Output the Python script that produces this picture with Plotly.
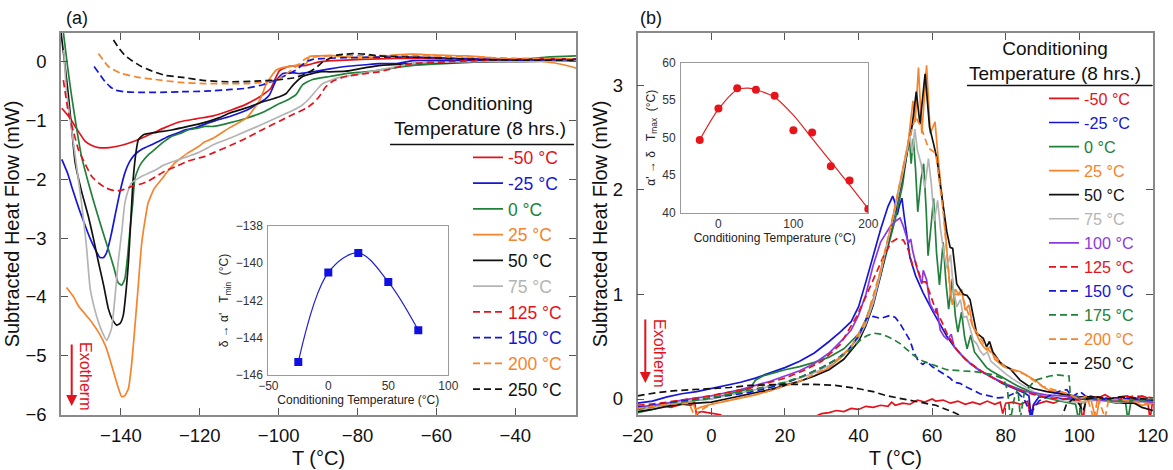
import plotly.graph_objects as go

FONT = "Arial, 'Liberation Sans', sans-serif"
RED = '#e3121b'; BLUE = '#1616d4'; GREEN = '#21803a'; ORANGE = '#f5842c'
BLACK = '#111111'; GRAY = '#b4b4b4'; PURPLE = '#8c3ae0'

# ---------------- Panel (a) data: (T, heat flow) ----------------
A_M50 = [(-155,-0.79),(-153,-0.95),(-151.6,-1.10),(-149.1,-1.35),(-147.5,-1.42),(-145.7,-1.46),(-143,-1.46),(-139.8,-1.42),(-137,-1.36),(-134.8,-1.30),(-131.5,-1.20),(-128.9,-1.12),(-125,-1.02),(-121,-0.97),(-116.6,-0.92),(-112,-0.82),(-108.2,-0.72),(-104,-0.56),(-102,-0.45),(-101,-0.31),(-99.8,-0.15),(-98,-0.09),(-96.4,-0.07),(-93,-0.06),(-89.7,0.0),(-86,0.02),(-83,0.03),(-75,0.05),(-66,0.06),(-55,0.05),(-45,0.04),(-35,0.05),(-24.6,0.05)]
A_M25 = [(-155,-1.66),(-153.5,-1.9),(-152.5,-2.12),(-150,-2.62),(-147.4,-3.07),(-145.3,-3.33),(-144.4,-3.33),(-143.6,-3.24),(-142.5,-2.95),(-141.5,-2.62),(-140.2,-2.2),(-139,-1.89),(-137.8,-1.70),(-136.5,-1.58),(-134.5,-1.48),(-132.2,-1.41),(-130,-1.34),(-128,-1.27),(-125.5,-1.21),(-123.8,-1.16),(-121,-1.12),(-118.7,-1.06),(-116,-1.0),(-112.4,-0.93),(-108,-0.82),(-105.7,-0.73),(-103.5,-0.64),(-102.3,-0.56),(-100.6,-0.31),(-98.9,-0.20),(-96,-0.19),(-94.7,-0.20),(-91.4,-0.17),(-87,-0.12),(-83,-0.08),(-78,-0.05),(-74.5,-0.03),(-70,-0.03),(-66,0.02),(-60,0.02),(-49.3,0.03),(-40,0.02),(-30,0.01),(-24.6,0.02)]
A_0 = [(-154.6,0.5),(-153.5,-0.1),(-152.5,-0.59),(-151.2,-1.15),(-150,-1.61),(-148.3,-2.05),(-146.6,-2.45),(-144.8,-2.85),(-143.2,-3.19),(-141.8,-3.5),(-140.7,-3.76),(-139.8,-3.8),(-139,-3.69),(-138.3,-3.3),(-137.7,-2.85),(-137,-2.4),(-136.5,-2.0),(-135.6,-1.82),(-134.8,-1.72),(-133,-1.58),(-131.4,-1.49),(-129.5,-1.38),(-127.2,-1.27),(-125,-1.22),(-123,-1.16),(-120.5,-1.13),(-118.7,-1.10),(-116.6,-1.10),(-112,-1.03),(-108.2,-0.96),(-104,-0.86),(-99.8,-0.71),(-97.5,-0.64),(-95.6,-0.56),(-93.9,-0.39),(-91.4,-0.30),(-87,-0.25),(-83,-0.20),(-78,-0.17),(-74.5,-0.14),(-66,-0.06),(-58,-0.03),(-49.3,0.0),(-40,0.03),(-32,0.08),(-24.6,0.1)]
A_25 = [(-153.8,-3.84),(-152,-4.0),(-150.8,-4.15),(-149,-4.3),(-147.4,-4.43),(-145.7,-4.6),(-144,-4.82),(-143,-5.02),(-141.9,-5.27),(-140.8,-5.52),(-139.8,-5.70),(-139,-5.68),(-138.1,-5.56),(-137.3,-5.15),(-136.5,-4.54),(-135.6,-3.8),(-134.8,-3.13),(-133.9,-2.7),(-133.1,-2.40),(-131.5,-2.15),(-129.7,-2.0),(-128,-1.85),(-126.3,-1.72),(-125,-1.65),(-123,-1.55),(-120.5,-1.45),(-118.7,-1.36),(-116.6,-1.30),(-112.4,-1.12),(-108.2,-0.96),(-106.5,-0.82),(-104.8,-0.65),(-103.2,-0.39),(-101.9,-0.25),(-100.6,-0.14),(-99,-0.1),(-97.3,-0.08),(-95,-0.05),(-93,-0.03),(-92.2,0.09),(-90,0.1),(-87,0.11),(-83,0.08),(-78.7,0.06),(-74,0.09),(-70,0.12),(-66,0.13),(-62,0.12),(-57.7,0.11),(-52,0.1),(-45,0.06),(-40,0.04),(-35,0.02),(-30,-0.02),(-26,-0.08),(-24.6,-0.11)]
A_50 = [(-155.2,0.5),(-154.3,0.0),(-153.3,-0.59),(-152.4,-1.2),(-151.6,-1.72),(-150,-2.2),(-148.3,-2.62),(-147,-3.0),(-145.7,-3.41),(-144.4,-3.8),(-143.2,-4.20),(-142.2,-4.38),(-141.1,-4.48),(-140.2,-4.45),(-139.4,-4.31),(-138.7,-3.9),(-138.1,-3.41),(-137.5,-2.7),(-136.9,-2.0),(-136.2,-1.55),(-135.6,-1.33),(-134.3,-1.24),(-131,-1.20),(-127.2,-1.16),(-123,-1.10),(-118.7,-1.03),(-115,-0.95),(-112.4,-0.87),(-108,-0.78),(-104,-0.68),(-100,-0.60),(-98.1,-0.54),(-97,-0.45),(-96,-0.37),(-93.9,-0.25),(-91.4,-0.20),(-89.7,-0.17),(-87,-0.17),(-83,-0.16),(-78,-0.1),(-74,-0.06),(-66,-0.03),(-55,-0.01),(-45,0.0),(-40,0.0),(-32,0.01),(-24.6,0.02)]
A_75 = [(-154.5,0.2),(-153.8,-0.5),(-152.5,-1.16),(-151.2,-1.8),(-150,-2.40),(-148.8,-3.1),(-147.8,-3.86),(-146.7,-4.2),(-145.7,-4.43),(-144.6,-4.62),(-143.6,-4.74),(-142.4,-4.54),(-141.5,-4.0),(-140.7,-3.41),(-139.8,-2.9),(-139,-2.40),(-138.2,-2.2),(-137.3,-2.06),(-136,-2.0),(-134.8,-1.95),(-131.5,-1.85),(-128.9,-1.75),(-126,-1.68),(-123,-1.61),(-120.5,-1.55),(-118.7,-1.49),(-116.6,-1.41),(-112.4,-1.30),(-108.2,-1.18),(-104,-1.06),(-99.8,-0.93),(-96.5,-0.83),(-93.9,-0.73),(-92.6,-0.65),(-91.4,-0.56),(-90,-0.45),(-88.8,-0.37),(-87,-0.32),(-85.5,-0.28),(-80,-0.21),(-74.5,-0.14),(-66,-0.03),(-55,0.0),(-40,0.0),(-24.6,0.02)]
A_125 = [(-154.6,-0.31),(-153.3,-0.87),(-152,-1.2),(-150.8,-1.49),(-149,-1.75),(-147.4,-1.95),(-145.7,-2.06),(-144,-2.14),(-142.5,-2.18),(-141.1,-2.20),(-139.2,-2.17),(-137.3,-2.12),(-135,-2.08),(-133.1,-2.03),(-131,-1.95),(-128.9,-1.86),(-126,-1.78),(-123,-1.69),(-120.5,-1.64),(-118.7,-1.61),(-116.6,-1.55),(-112.4,-1.43),(-108.2,-1.30),(-104,-1.15),(-99.8,-1.01),(-96.5,-0.90),(-93,-0.79),(-91.2,-0.70),(-89.7,-0.59),(-88,-0.42),(-86,-0.32),(-83,-0.25),(-78,-0.2),(-74.5,-0.17),(-66,-0.03),(-57.7,0.0),(-50,0.02),(-40,0.04),(-24.6,0.05)]
A_150 = [(-146.8,-0.08),(-145.5,-0.2),(-144,-0.34),(-142.8,-0.42),(-141.5,-0.48),(-139,-0.51),(-135.6,-0.52),(-130,-0.52),(-125,-0.51),(-118.7,-0.50),(-112,-0.47),(-108.2,-0.45),(-104,-0.39),(-101.9,-0.34),(-99.8,-0.28),(-97.7,-0.21),(-95.6,-0.14),(-94.3,-0.07),(-93,0.0),(-91.4,0.04),(-87,0.06),(-83,0.07),(-75,0.08),(-66,0.08),(-55,0.06),(-40,0.03),(-24.6,0.04)]
A_200 = [(-145.7,0.14),(-144.5,0.03),(-143.2,-0.08),(-141.5,-0.15),(-139.8,-0.20),(-136,-0.26),(-131.4,-0.30),(-125,-0.35),(-118.7,-0.37),(-112,-0.37),(-108.2,-0.37),(-104,-0.35),(-100.6,-0.31),(-98,-0.2),(-95.6,-0.08),(-93,0.06),(-90,0.09),(-87,0.10),(-80,0.1),(-66,0.11),(-55,0.09),(-40,0.06),(-24.6,0.05)]
A_250 = [(-141.9,0.37),(-140.5,0.23),(-139,0.11),(-137,0.01),(-134.8,-0.08),(-132,-0.16),(-128.9,-0.23),(-125,-0.26),(-118.7,-0.32),(-112.4,-0.34),(-106,-0.33),(-100.6,-0.31),(-96,-0.27),(-93,-0.20),(-90.5,-0.1),(-88.8,0.0),(-87,0.06),(-85.5,0.11),(-83,0.13),(-81.3,0.14),(-78,0.13),(-74.5,0.10),(-66,0.08),(-57.7,0.06),(-50,0.04),(-40,0.03),(-24.6,0.03)]

A_LABELS = ['-50 °C', '-25 °C', '0 °C', '25 °C', '50 °C', '75 °C', '125 °C', '150 °C', '200 °C', '250 °C']
A_SERIES = [A_M50, A_M25, A_0, A_25, A_50, A_75, A_125, A_150, A_200, A_250]
A_COLORS = [RED, BLUE, GREEN, ORANGE, BLACK, GRAY, RED, BLUE, ORANGE, BLACK]
A_DASHES = ['solid'] * 6 + ['dash'] * 4

# ---------------- Panel (b) data ----------------
B_M50 = [(-20,-0.07),(-17,-0.09),(-14,-0.06),(-11,-0.08),(-8,-0.05),(-5.5,-0.06),(-4.5,-0.03),(-4,-0.16),(-3.5,-0.13),(-2.5,-0.12),(-1,-0.13),(1,-0.14),(2.5,-0.15),(3.5,-0.3),(26.5,-0.3),(28,-0.17),(30,-0.14),(32,-0.13),(34,-0.11),(36,-0.12),(38,-0.09),(40,-0.1),(42,-0.07),(44,-0.08),(46,-0.06),(48,-0.07),(49,-0.03),(50,-0.06),(52,-0.04),(54,-0.05),(56,-0.01),(58,-0.03),(60,0.0),(61,-0.02),(63,-0.01),(65,-0.04),(67,-0.02),(69,-0.05),(71,-0.03),(73,-0.05),(75,-0.02),(77,-0.05),(78.5,-0.03),(79.2,-0.14),(80,-0.04),(82,-0.03),(84,-0.05),(86,-0.02),(86.8,-0.2),(87.5,-0.06),(89,-0.04),(91,-0.02),(93,-0.04),(95,-0.01),(97,0.01),(98.5,0.03),(100,-0.01),(101,-0.2),(101.8,0.0),(103,0.03),(105,0.01),(107,0.04),(109,0.0),(111,0.02),(113,0.03),(115,0.0),(117,0.03),(118.5,0.01),(119.2,-0.2),(120,0.0)]
B_M25 = [(-20,-0.04),(-16,-0.02),(-12,0.02),(-8,0.05),(-4,0.07),(0,0.10),(4,0.13),(8,0.16),(12,0.2),(16,0.25),(20,0.30),(24,0.36),(28,0.44),(32,0.55),(35,0.64),(38,0.74),(40,0.88),(42,1.12),(44,1.38),(46,1.62),(48,1.84),(49.3,1.94),(49.9,1.88),(50.5,1.76),(51.2,1.86),(51.8,1.92),(52.4,1.75),(53,1.58),(54,1.35),(55.5,1.18),(57.5,1.02),(60,0.85),(62,0.72),(64,0.6),(66,0.5),(68,0.42),(70.3,0.34),(73,0.27),(76.7,0.2),(79,0.15),(81,0.12),(83,0.09),(85,0.06),(86.3,0.03),(87,-0.2),(87.6,-0.05),(89,0.02),(92,0.02),(96,0.0),(100,0.0),(105,-0.01),(110,-0.02),(115,-0.01),(120,-0.02)]
B_0 = [(-20,-0.13),(-16,-0.1),(-12,-0.06),(-8,-0.04),(-4,-0.01),(0,0.0),(4,0.04),(8,0.08),(10.5,0.1),(12,0.18),(14,0.22),(17,0.25),(20,0.28),(24,0.31),(28,0.35),(32,0.4),(36,0.48),(40,0.62),(42,0.76),(44,0.95),(46,1.18),(48,1.45),(50,1.72),(52,2.05),(53,2.3),(53.8,2.52),(54.3,2.25),(54.9,2.49),(55.5,2.2),(56.1,1.79),(57,2.1),(57.7,2.25),(58.4,1.8),(58.9,1.37),(59.7,1.65),(60.4,1.92),(61.2,1.4),(62,1.09),(63,1.5),(63.8,1.1),(64.5,0.86),(65.5,1.15),(66.3,0.8),(67,0.64),(68,0.83),(68.8,0.6),(69.5,0.48),(70.5,0.61),(71.5,0.45),(73,0.38),(74.8,0.3),(76,0.27),(78,0.23),(80,0.19),(83,0.13),(86,0.08),(90,0.02),(95,-0.02),(99,-0.05),(99.8,-0.2),(100.6,-0.03),(105,0.0),(110,-0.04),(112.5,-0.02),(113.2,-0.2),(114,-0.03),(117,-0.01),(120,-0.02)]
B_25 = [(-20,-0.1),(-16,-0.08),(-12,-0.06),(-8,-0.05),(-5,-0.04),(-4.3,-0.1),(-3,-0.08),(0,-0.05),(4,-0.02),(8,0.01),(12,0.04),(16,0.08),(20,0.13),(24,0.17),(28,0.22),(32,0.3),(36,0.42),(38,0.5),(40,0.6),(42,0.75),(44,0.95),(46,1.23),(48,1.52),(50,1.85),(52,2.18),(53.5,2.45),(54.8,2.85),(55.4,2.65),(56.3,3.17),(57.2,2.54),(58.5,3.19),(59.5,2.54),(60.8,2.65),(61.7,2.28),(63.1,1.8),(64,1.42),(64.9,1.05),(65.5,0.9),(66.3,1.05),(67.2,1.0),(68,1.05),(69,0.85),(70,0.9),(71,0.7),(72,0.62),(73,0.55),(74,0.5),(74.8,0.47),(75.8,0.5),(77,0.38),(79.4,0.31),(82,0.28),(84,0.26),(86,0.22),(88.4,0.17),(90,0.12),(92,0.08),(96,0.06),(99,0.02),(101,-0.04),(103,0.02),(104.5,-0.2),(105.5,0.0),(108,-0.02),(110,0.0),(114,-0.03),(117,-0.06),(120,-0.04)]
B_50 = [(-20,-0.12),(-16,-0.1),(-12,-0.07),(-8,-0.05),(-4,-0.04),(0,-0.03),(4,0.0),(8,0.03),(12,0.06),(16,0.09),(20,0.13),(24,0.17),(28,0.22),(32,0.28),(36,0.38),(40,0.55),(42,0.7),(44,0.9),(46,1.18),(48,1.48),(50,1.8),(52,2.12),(53.6,2.41),(54.6,2.62),(55.7,2.94),(56.7,2.63),(58.1,3.11),(59.3,2.6),(60.4,2.44),(61.3,2.3),(62.2,2.05),(63.1,1.8),(64,1.6),(64.9,1.45),(65.6,1.44),(66.7,1.1),(67.6,1.05),(68.5,1.0),(69.5,0.99),(70.3,0.95),(71.2,0.79),(72.1,0.63),(73.9,0.58),(74.8,0.5),(75.6,0.55),(76.5,0.45),(78.5,0.35),(80,0.31),(81.2,0.29),(82.5,0.24),(83.9,0.18),(86,0.13),(87.5,0.1),(91.2,0.07),(96.6,0.04),(100,0.02),(104,0.02),(108,-0.02),(112,-0.04),(115,-0.04),(117,-0.08),(120,-0.11)]
B_75 = [(-20,-0.1),(-16,-0.08),(-12,-0.05),(-8,-0.03),(-4,-0.01),(0,0.0),(4,0.03),(8,0.06),(12,0.09),(16,0.12),(20,0.16),(24,0.2),(28,0.25),(32,0.32),(36,0.43),(40,0.58),(42,0.72),(44,0.92),(46,1.2),(48,1.5),(50,1.82),(52,2.15),(53,2.32),(54,2.52),(54.6,2.35),(55.3,2.58),(56,2.38),(57,2.25),(58,2.02),(59,2.3),(59.8,2.05),(60.6,1.7),(61.5,1.9),(62.3,1.62),(63.2,1.4),(64,1.25),(65,1.38),(65.8,1.05),(66.7,0.88),(67.7,0.95),(68.5,0.78),(69.4,0.79),(70.3,0.68),(71.2,0.56),(72.1,0.53),(73,0.46),(74,0.42),(75,0.45),(76,0.36),(78.5,0.28),(80,0.24),(82,0.19),(83.9,0.15),(86,0.1),(87.5,0.07),(90,0.03),(93,0.01),(96,-0.02),(100,-0.03),(105,-0.01),(110,-0.03),(115,-0.02),(120,-0.03)]
B_100 = [(-20,-0.08),(-16,-0.06),(-12,-0.04),(-8,-0.01),(-4,0.01),(0,0.03),(4,0.06),(8,0.09),(12,0.13),(16,0.17),(20,0.22),(24,0.27),(28,0.34),(32,0.44),(36,0.58),(38,0.66),(40,0.8),(42,1.0),(44,1.28),(46,1.5),(48.6,1.65),(50.4,1.71),(51.3,1.73),(52.2,1.65),(53.6,1.49),(54.2,1.53),(54.7,1.42),(55.8,1.26),(57.2,1.1),(57.6,1.23),(58.5,1.14),(59.4,0.91),(60.8,0.82),(61.3,0.87),(62.2,0.66),(63.2,0.6),(64.2,0.57),(65.2,0.62),(66,0.5),(68,0.42),(70.3,0.34),(73,0.27),(76.7,0.2),(81,0.13),(85.7,0.07),(91,0.04),(99,0.02),(105,-0.01),(110,-0.02),(115,-0.02),(120,-0.03)]
B_125 = [(-20,-0.06),(-14,-0.04),(-8,-0.01),(-2,0.02),(4,0.06),(10,0.1),(16,0.16),(20,0.2),(25,0.27),(30,0.36),(35,0.52),(39.5,0.79),(42,0.98),(45,1.22),(47,1.38),(49,1.5),(50.4,1.53),(52.2,1.52),(53.6,1.42),(54.7,1.28),(55.4,1.32),(57.2,1.12),(58.3,1.12),(59.4,1.01),(61.3,0.82),(62.5,0.75),(64,0.63),(66.7,0.47),(69,0.38),(72.1,0.3),(75,0.23),(77.6,0.18),(80,0.14),(84,0.08),(88,0.04),(92,0.01),(96,0.0),(100,-0.01),(105,0.02),(110,-0.01),(115,0.03),(120,0.01)]
B_150 = [(-20,-0.08),(-14,-0.05),(-8,-0.02),(-2,0.0),(4,0.03),(10,0.06),(16,0.11),(20,0.15),(25,0.22),(30,0.3),(34,0.38),(37,0.46),(40,0.6),(42.2,0.77),(44,0.79),(46,0.77),(48.6,0.80),(50,0.78),(51.3,0.72),(53,0.62),(54,0.56),(55,0.45),(56.3,0.36),(57.5,0.33),(58.5,0.36),(60,0.31),(61.3,0.28),(63,0.24),(64.9,0.2),(66,0.16),(67.6,0.15),(69,0.12),(70.3,0.1),(72,0.07),(73,0.05),(75,0.03),(76.7,0.02),(78,0.01),(80.3,0.02),(82,0.05),(83,0.07),(85,0.0),(86.5,-0.12),(87.5,-0.1),(89,-0.02),(91.2,0.02),(93,0.05),(95,0.08),(96.6,0.09),(98,0.02),(100.2,0.07),(102,0.02),(105,0.0),(110,0.01),(115,0.0),(120,-0.01)]
B_175 = [(-20,-0.1),(-14,-0.06),(-8,-0.03),(-2,0.0),(4,0.04),(10,0.08),(16,0.13),(20,0.16),(25,0.22),(30,0.3),(35,0.4),(38,0.48),(40.4,0.56),(42,0.6),(44,0.63),(46,0.62),(47.7,0.6),(49.5,0.57),(51.3,0.53),(53,0.48),(54.9,0.42),(57.6,0.36),(61.3,0.31),(64,0.28),(67.6,0.27),(72.1,0.26),(76.7,0.23),(79.5,0.19),(80.5,0.08),(81.3,-0.2),(82.3,0.0),(83.3,0.1),(84,-0.18),(85,0.05),(86.5,0.12),(88,0.18),(90,0.2),(92,0.22),(94,0.23),(96,0.22),(97.2,0.22),(97.5,0.06),(99,0.02),(102,0.0),(105,0.0),(110,-0.02),(115,-0.01),(120,0.0)]
B_200 = [(-20,-0.09),(-12,-0.05),(-6,-0.04),(-4.5,-0.17),(-3.5,-0.12),(0,-0.05),(8,0.01),(16,0.08),(24,0.17),(32,0.3),(38,0.5),(42,0.75),(46,1.23),(50,1.85),(53.5,2.45),(55.5,2.7),(57,2.6),(59,2.4),(61,2.35),(63,1.8),(65,1.0),(68,1.0),(71,0.7),(75,0.48),(80,0.3),(85,0.24),(90,0.12),(96,0.06),(100,0.0),(102,0.03),(104,-0.2),(105,0.02),(107,-0.18),(108,0.0),(112,-0.01),(116,-0.03),(120,-0.05)]
B_250 = [(-20,0.03),(-15,0.06),(-9.7,0.08),(-5,0.09),(0.4,0.1),(5,0.11),(10.5,0.13),(15,0.135),(20.6,0.14),(27.6,0.14),(33.7,0.13),(39.8,0.1),(44,0.07),(47.8,0.03),(51,0.01),(54.9,-0.02),(58,-0.04),(61,-0.06),(64,-0.1),(66,-0.13),(69,-0.18),(72,-0.3),(94,-0.3),(95.3,-0.18),(96.5,-0.05),(98.3,0.0),(100,-0.05),(101,-0.12),(102,0.0),(105,0.02),(108,0.0),(111,0.02),(115,0.01),(118,0.0),(120,-0.01)]

B_LABELS = ['-50 °C', '-25 °C', '0 °C', '25 °C', '50 °C', '75 °C', '100 °C', '125 °C', '150 °C', '175 °C', '200 °C', '250 °C']
B_SERIES = [B_M50, B_M25, B_0, B_25, B_50, B_75, B_100, B_125, B_150, B_175, B_200, B_250]
B_COLORS = [RED, BLUE, GREEN, ORANGE, BLACK, GRAY, PURPLE, RED, BLUE, GREEN, ORANGE, BLACK]
B_DASHES = ['solid'] * 7 + ['dash'] * 5

# ---------------- Insets ----------------
INSET_A_X = [-25, 0, 25, 50, 75]
INSET_A_Y = [-145.3, -140.5, -139.45, -141.0, -143.6]
INSET_B_X = [-25, 0, 25, 50, 75, 100, 125, 150, 175, 200]
INSET_B_Y = [49.7, 53.9, 56.6, 56.4, 55.6, 51.0, 50.7, 46.2, 44.3, 40.5]
INSET_B_FIT_X = [-25, 0, 25, 40, 50, 75, 100, 125, 150, 175, 200]
INSET_B_FIT_Y = [49.7, 53.8, 56.4, 56.6, 56.4, 55.4, 53.0, 49.9, 46.8, 43.7, 40.5]

# ---------------- geometry helpers (pixel -> paper) ----------------
FW, FH = 1173, 470
ML, MR, MT, MB = 61, 20, 33, 55
PW, PH = FW - ML - MR, FH - MT - MB
def px(x):
    return (x - ML) / PW
def py(y):
    return (FH - MB - y) / PH

fig = go.Figure()

for lab, ser, col, dsh in zip(A_LABELS, A_SERIES, A_COLORS, A_DASHES):
    xs = [p[0] for p in ser]; ys = [p[1] for p in ser]
    fig.add_trace(go.Scatter(x=xs, y=ys, mode='lines', xaxis='x', yaxis='y',
                             line=dict(color=col, width=1.7, dash='7px,4px' if dsh == 'dash' else 'solid',
                                       shape='spline', smoothing=0.5),
                             name=f'<span style="color:{col}">{lab}</span>', legend='legend'))

for lab, ser, col, dsh in zip(B_LABELS, B_SERIES, B_COLORS, B_DASHES):
    xs = [p[0] for p in ser]; ys = [p[1] for p in ser]
    fig.add_trace(go.Scatter(x=xs, y=ys, mode='lines', xaxis='x2', yaxis='y2',
                             line=dict(color=col, width=1.7, dash='7px,4px' if dsh == 'dash' else 'solid'),
                             name=f'<span style="color:{col}">{lab}</span>', legend='legend2'))

fig.add_trace(go.Scatter(x=INSET_A_X, y=INSET_A_Y, mode='lines+markers', xaxis='x3', yaxis='y3',
                         line=dict(color='#2323c8', width=1.2, shape='spline', smoothing=1.0),
                         marker=dict(symbol='square', size=8, color='#1010e0'), showlegend=False))
fig.add_trace(go.Scatter(x=INSET_B_FIT_X, y=INSET_B_FIT_Y, mode='lines', xaxis='x4', yaxis='y4',
                         line=dict(color='#dd2222', width=1.2, shape='spline', smoothing=0.8), showlegend=False))
fig.add_trace(go.Scatter(x=INSET_B_X, y=INSET_B_Y, mode='markers', xaxis='x4', yaxis='y4',
                         marker=dict(symbol='circle', size=8, color='#e8141b'), showlegend=False))

main_axis = dict(showline=True, linecolor='#8a8a8a', linewidth=1.5, mirror='ticks', ticks='inside',
                 ticklen=7, tickwidth=1.2, tickcolor='#555', showgrid=False, zeroline=False,
                 automargin=False, tickfont=dict(size=18.5, color='#111'))
inset_axis = dict(showline=True, linecolor='#9a9a9a', linewidth=1, mirror=True, ticks='',
                  showgrid=False, zeroline=False, automargin=False, tickfont=dict(size=12, color='#333'))

fig.update_layout(
    width=FW, height=FH, margin=dict(l=ML, r=MR, t=MT, b=MB, autoexpand=False),
    paper_bgcolor='white', plot_bgcolor='white',
    font=dict(family=FONT, color='#111'),
    xaxis=dict(main_axis, domain=[0, px(576)], range=[-155.2, -24.6], dtick=20, anchor='y',
               ticklabelstandoff=3,
               title=dict(text='T (°C)', font=dict(size=20), standoff=6)),
    yaxis=dict(main_axis, domain=[0, 1], range=[-6.01, 0.49], dtick=1, anchor='x',
               ticklabelstandoff=9,
               title=dict(text='Subtracted Heat Flow (mW)', font=dict(size=20), standoff=0)),
    xaxis2=dict(main_axis, domain=[px(637.6), 1], range=[-20.02, 120.02], dtick=20, anchor='y2',
                ticklabelstandoff=3,
                title=dict(text='T (°C)', font=dict(size=20), standoff=6)),
    yaxis2=dict(main_axis, domain=[0, 1], range=[-0.153, 3.5], dtick=1, anchor='x2',
                ticklabelstandoff=9,
                title=dict(text='Subtracted Heat Flow (mW)', font=dict(size=20), standoff=0)),
    xaxis3=dict(inset_axis, domain=[px(268.3), px(448.3)], range=[-50, 100], dtick=50, anchor='y3',
                ticklabelstandoff=0,
                title=dict(text='Conditioning Temperature (°C)', font=dict(size=12, color='#222'), standoff=0)),
    yaxis3=dict(inset_axis, domain=[py(375), py(226)], range=[-146, -138], dtick=2, anchor='x3',
                ticklabelstandoff=2,
                title=dict(text="δ → α'   T<sub>min</sub>  (°C)", font=dict(size=12, color='#222'), standoff=4)),
    xaxis4=dict(inset_axis, domain=[px(681), px(868.3)], range=[-50, 200], tickvals=[0, 100, 200], anchor='y4',
                ticklabelstandoff=0,
                title=dict(text='Conditioning Temperature (°C)', font=dict(size=12, color='#222'), standoff=0)),
    yaxis4=dict(inset_axis, domain=[py(212.7), py(62.7)], range=[40, 60], dtick=5, anchor='x4',
                ticklabelstandoff=2,
                title=dict(text="α' → δ   T<sub>max</sub>  (°C)", font=dict(size=12, color='#222'), standoff=4)),
    legend=dict(x=px(468), y=py(139.5), xanchor='left', yanchor='top', bgcolor='rgba(0,0,0,0)',
                font=dict(size=17.5, family=FONT), tracegroupgap=0, borderwidth=0),
    legend2=dict(x=px(1044), y=py(81.4), xanchor='left', yanchor='top', bgcolor='rgba(0,0,0,0)',
                 font=dict(size=16.2, family=FONT), tracegroupgap=0, borderwidth=0),
    showlegend=True,
)

ann = []
# Legend headings
ann.append(dict(x=px(480), y=py(116), xref='paper', yref='paper', text='Conditioning<br>Temperature (8 hrs.)',
                showarrow=False, font=dict(size=19, color='#111'), align='center', xanchor='center', yanchor='middle'))
ann.append(dict(x=px(1055), y=py(61), xref='paper', yref='paper', text='Conditioning<br>Temperature (8 hrs.)',
                showarrow=False, font=dict(size=19, color='#111'), align='center', xanchor='center', yanchor='middle'))
# panel labels
ann.append(dict(x=px(64), y=py(18), xref='paper', yref='paper', text='(a)', showarrow=False,
                font=dict(size=18, color='#111'), xanchor='left', yanchor='middle'))
ann.append(dict(x=px(638), y=py(18), xref='paper', yref='paper', text='(b)', showarrow=False,
                font=dict(size=18, color='#111'), xanchor='left', yanchor='middle'))
# Exotherm labels and arrows
ann.append(dict(x=px(86), y=py(376), xref='paper', yref='paper', text='Exotherm', textangle=90, showarrow=False,
                font=dict(size=16, color='#e3121b'), xanchor='center', yanchor='middle'))
ann.append(dict(x=px(660), y=py(353), xref='paper', yref='paper', text='Exotherm', textangle=90, showarrow=False,
                font=dict(size=16, color='#e3121b'), xanchor='center', yanchor='middle'))
for (xa, ytop, ybot) in [(71.7, 343, 406), (645.3, 318, 383)]:
    ann.append(dict(x=px(xa), y=py(ybot), xref='paper', yref='paper', ax=0, ay=-(ybot - ytop),
                    axref='pixel', ayref='pixel', text='', showarrow=True, arrowhead=2, arrowsize=1.1,
                    arrowwidth=2, arrowcolor='#e3121b'))
fig.update_layout(annotations=ann)

shapes = [
    dict(type='line', xref='paper', yref='paper', x0=px(390), x1=px(574), y0=py(144.5), y1=py(144.5),
         line=dict(color='#111', width=1.6)),
    dict(type='line', xref='paper', yref='paper', x0=px(967), x1=px(1152), y0=py(85.5), y1=py(85.5),
         line=dict(color='#111', width=1.6)),
]
fig.update_layout(shapes=shapes)

fig.write_html('out.html', config={'displayModeBar': False})

# remove the browser's default page margin so the figure sits at (0, 0)
with open('out.html', 'r', encoding='utf-8') as f:
    html = f.read()
html = html.replace('<head>', '<head><style>html,body{margin:0;padding:0;overflow:hidden;}</style>', 1)
with open('out.html', 'w', encoding='utf-8') as f:
    f.write(html)
